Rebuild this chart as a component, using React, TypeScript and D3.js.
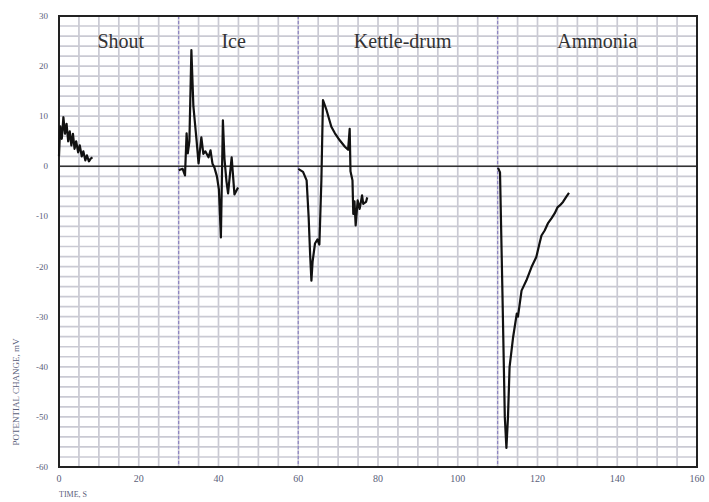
import React from 'react';
import { scaleLinear, line, range } from 'd3';

// time (s) / potential change (mV)
const shoutT = [0, 0.3, 0.7, 1.1, 1.5, 1.9, 2.3, 2.7, 3.1, 3.5, 3.9, 4.3, 4.8, 5.2, 5.7, 6.1, 6.6, 7.0, 7.5, 8.0, 8.4];
const shoutV = [2, 8, 5.5, 9.8, 6.5, 8.5, 5, 7, 4.2, 6.5, 3.5, 5, 2.8, 4.2, 2, 3, 1.2, 2.2, 1, 1.6, 1.8];

const iceT = [30, 31, 31.6, 32, 32.3, 32.7, 33.2, 33.7, 34.5, 35.0, 35.7, 36.2, 36.7, 37.5, 38.0, 38.5, 39.0, 39.6, 40.1, 40.6, 41.1, 41.5, 42.0, 42.4, 43.3, 44.0, 44.9];
const iceV = [-0.8, -0.5, -1.8, 6.6, 2.6, 5, 23.2, 12, 5.2, 0.6, 5.8, 2.5, 3, 1.8, 3.2, 0.5, -0.3, -2, -4.6, -14.2, 9.2, 1.5, -3, -5.4, 1.8, -5.6, -4.2];

const kettleT = [60, 61.2, 62.1, 62.6, 63.0, 63.3, 63.6, 64.2, 64.8, 65.3, 65.8, 66.2, 67.1, 68.3, 69.2, 70.4, 71.7, 72.5, 72.9, 73.1, 73.6, 73.8, 74.1, 74.4, 74.9, 75.4, 76.0, 76.3, 77.0, 77.3];
const kettleV = [-0.5, -1.1, -2.8, -10, -18, -22.8, -19, -15.4, -14.6, -15.6, -2.8, 13.2, 11.2, 7.9, 6.6, 5.2, 3.9, 3.3, 7.5, -1, -2.8, -9.5, -7, -11.8, -6.8, -8.5, -5.8, -7.5, -7.1, -6.2];

const ammoniaT = [110.1, 110.6, 111.2, 111.8, 112.2, 112.6, 113.0, 113.9, 114.8, 115.1, 116.0, 117.2, 118.5, 119.7, 120.5, 121.0, 121.8, 122.6, 123.5, 124.3, 125.0, 125.6, 126.4, 127.2, 127.9];
const ammoniaV = [-0.3, -1.2, -25, -50, -56.2, -50, -40, -34, -29.4, -30, -24.8, -22.8, -20.1, -18.1, -15.4, -13.8, -12.8, -11.4, -10.4, -9.4, -8.2, -7.8, -7.1, -6.1, -5.3];

const stimuli = ['Shout', 'Ice', 'Kettle-drum', 'Ammonia'];
const stimulusAt = [15.5, 43.8, 86.2, 135];
const stimulusOnset = [30, 60, 110];

const xTicks = [0, 20, 40, 60, 80, 100, 120, 140, 160];
const yTicks = [30, 20, 10, 0, -10, -20, -30, -40, -50, -60];

const W = 709;
const H = 502;
const m = { left: 59, right: 12, top: 16, bottom: 35 };

function App() {
  const x = scaleLinear().domain([0, 160]).range([m.left, W - m.right]);
  const y = scaleLinear().domain([-60, 30]).range([H - m.bottom, m.top]);

  const traces = [
    shoutT.map((t, i) => [t, shoutV[i]]),
    iceT.map((t, i) => [t, iceV[i]]),
    kettleT.map((t, i) => [t, kettleV[i]]),
    ammoniaT.map((t, i) => [t, ammoniaV[i]]),
  ];
  const path = line<number[]>()
    .x((d) => x(d[0]))
    .y((d) => y(d[1]));

  const tickColor = '#5a607a';

  return (
    <svg width={W} height={H} style={{ position: 'absolute', left: 0, top: 0, background: '#fff' }}>
      {/* grid */}
      <g stroke="#cacad3" strokeWidth={1.7}>
        {range(0, 161, 5).map((t) => (
          <line key={'gx' + t} x1={x(t)} x2={x(t)} y1={y(30)} y2={y(-60)} />
        ))}
        {range(-60, 31, 2).map((v) => (
          <line key={'gy' + v} x1={x(0)} x2={x(160)} y1={y(v)} y2={y(v)} />
        ))}
      </g>
      {/* stimulus onset markers */}
      <g stroke="#8e84c4" strokeWidth={1.2} strokeDasharray="3,2">
        {stimulusOnset.map((t) => (
          <line key={'s' + t} x1={x(t)} x2={x(t)} y1={y(30)} y2={y(-60)} />
        ))}
      </g>
      {/* zero line */}
      <line x1={x(0)} x2={x(160)} y1={y(0)} y2={y(0)} stroke="#333" strokeWidth={1.5} />
      {/* frame */}
      <rect x={x(0)} y={y(30)} width={x(160) - x(0)} height={y(-60) - y(30)} fill="none" stroke="#222" strokeWidth={2} />
      {/* traces */}
      {traces.map((d, i) => (
        <path key={'t' + i} d={path(d) || ''} fill="none" stroke="#111" strokeWidth={2.2} strokeLinejoin="round" />
      ))}
      {/* stimulus labels */}
      {stimuli.map((s, i) => (
        <text key={s} x={x(stimulusAt[i])} y={48} textAnchor="middle" fontFamily="Liberation Serif" fontSize={20} fill="#333">
          {s}
        </text>
      ))}
      {/* y ticks */}
      {yTicks.map((v) => (
        <text key={'y' + v} x={48} y={y(v) + 3} textAnchor="end" fontFamily="Liberation Serif" fontSize={9} fill={tickColor}>
          {v}
        </text>
      ))}
      {/* x ticks */}
      {xTicks.map((t) => (
        <text key={'x' + t} x={x(t)} y={482} textAnchor="middle" fontFamily="Liberation Serif" fontSize={10} fill={tickColor}>
          {t}
        </text>
      ))}
      <text x={59} y={497} fontFamily="Liberation Serif" fontSize={8} fill={tickColor}>
        TIME, S
      </text>
      <text transform="translate(19,392) rotate(-90)" textAnchor="middle" fontFamily="Liberation Serif" fontSize={9} fill={tickColor}>
        POTENTIAL CHANGE, mV
      </text>
    </svg>
  );
}

export default App;
